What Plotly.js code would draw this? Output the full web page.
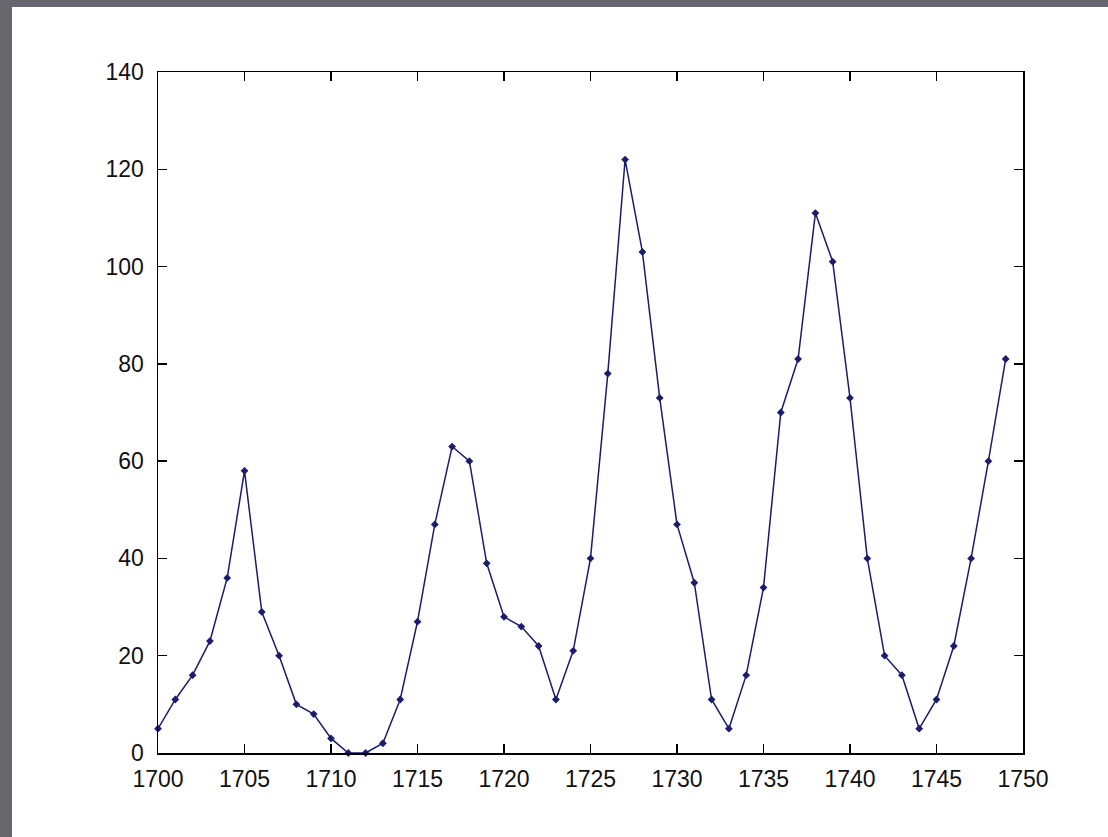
<!DOCTYPE html>
<html><head><meta charset="utf-8">
<script src="https://cdn.plot.ly/plotly-3.0.1.min.js"></script>
<style>
html,body{margin:0;padding:0;background:#fff;}
#wrap{position:relative;width:1108px;height:837px;overflow:hidden;}
#top{position:absolute;left:0;top:0;width:1108px;height:7px;background:#67656d;z-index:5;}
#left{position:absolute;left:0;top:0;width:12px;height:837px;background:#67656d;z-index:5;}
#chart{position:absolute;left:0;top:0;width:1108px;height:837px;}
</style></head>
<body><div id="wrap"><div id="top"></div><div id="left"></div><div id="chart"></div></div>
<script>
const years = [1700,1701,1702,1703,1704,1705,1706,1707,1708,1709,1710,1711,1712,1713,1714,1715,1716,1717,1718,1719,1720,1721,1722,1723,1724,1725,1726,1727,1728,1729,1730,1731,1732,1733,1734,1735,1736,1737,1738,1739,1740,1741,1742,1743,1744,1745,1746,1747,1748,1749];
const sunspots = [5,11,16,23,36,58,29,20,10,8,3,0,0,2,11,27,47,63,60,39,28,26,22,11,21,40,78,122,103,73,47,35,11,5,16,34,70,81,111,101,73,40,20,16,5,11,22,40,60,81];
const xTicks = [1700,1705,1710,1715,1720,1725,1730,1735,1740,1745,1750];
const yTicks = [0,20,40,60,80,100,120,140];

const axisCommon = {
  showgrid:false, zeroline:false, showline:true, mirror:'ticks',
  linecolor:'#000', linewidth:1.5, ticks:'inside', ticklen:9, tickcolor:'#000', tickwidth:1.3,
  tickfont:{family:'Liberation Sans, Arial, sans-serif', size:23, color:'#111'}
};
Plotly.newPlot('chart', [{
  x: years, y: sunspots, type:'scatter', mode:'lines+markers',
  line:{color:'#1c1c6c', width:1.5},
  marker:{color:'#1c1c6c', size:6, symbol:'diamond'},
  cliponaxis:false
}], {
  width:1108, height:837,
  margin:{l:158, t:72, r:85, b:84},
  paper_bgcolor:'#fff', plot_bgcolor:'#fff',
  showlegend:false,
  xaxis: Object.assign({}, axisCommon, {range:[1700,1750], tickvals:xTicks, ticktext:xTicks.map(String), ticklabelstandoff:5}),
  yaxis: Object.assign({}, axisCommon, {range:[0,140], tickvals:yTicks, ticktext:yTicks.map(String), ticklabelstandoff:8})
}, {displayModeBar:false, staticPlot:true});
</script></body></html>
